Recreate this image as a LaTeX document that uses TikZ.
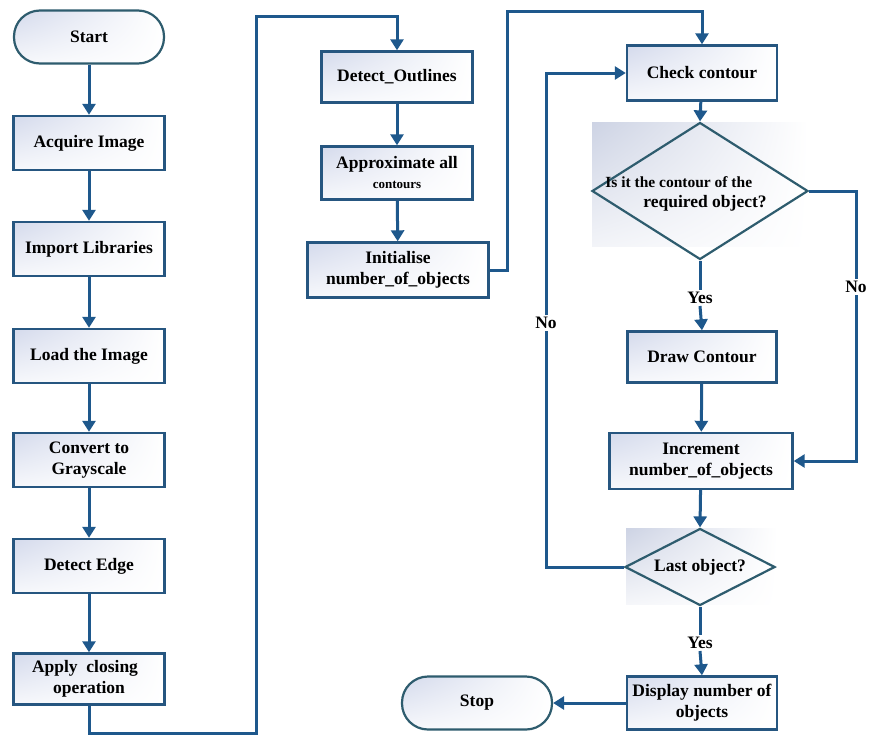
\documentclass[tikz,border=0pt]{standalone}
\usepackage{fontspec}
\setmainfont{Liberation Serif}
\usetikzlibrary{arrows.meta,shapes.geometric,shadings}
\definecolor{edge}{RGB}{38,86,128}
\definecolor{dedge}{RGB}{46,92,110}
\definecolor{arr}{RGB}{30,88,140}
\definecolor{shadec}{RGB}{212,218,236}
\definecolor{bgshade}{RGB}{205,211,228}
\begin{document}
\begin{tikzpicture}[x=1pt,y=-1pt,
  every node/.style={font=\bfseries\fontsize{17.5}{21}\selectfont, text=black},
  procbox/.style={draw=edge, line width=2.4pt, upper left=shadec, upper right=white, lower left=white!80!shadec, lower right=white,
    minimum width=#1, minimum height=54pt, inner sep=0pt, align=center},
  procbox/.default=151pt,
  termbox/.style={draw=dedge, line width=2.2pt, rounded corners=26pt, upper left=shadec, upper right=white, lower left=white!80!shadec, lower right=white,
    minimum width=150pt, minimum height=53pt, inner sep=0pt},
  decbox/.style={draw=dedge, line width=2.2pt, diamond, inner sep=0pt, fill=none},
  conn/.style={draw=arr, line width=3pt},
  arrow/.style={conn, -{Triangle[length=11pt,width=13pt]}},
  lbl/.style={fill=white, inner sep=2pt}
]
\useasboundingbox (0,0) rectangle (873,736);
\fill[white] (0,0) rectangle (873,736);

% background shades behind diamonds
\shade[upper left=bgshade, upper right=white, lower left=white!75!bgshade, lower right=white] (592,122) rectangle (808,246);
\shade[upper left=bgshade, upper right=white, lower left=white!80!bgshade, lower right=white] (626,528) rectangle (777,604);

% left column
\node[termbox] (start) at (89,37) {Start};
\node[procbox] (acq) at (89,143) {Acquire Image};
\node[procbox] (imp) at (89,249) {Import Libraries};
\node[procbox] (load) at (89,356) {Load the Image};
\node[procbox] (gray) at (89,460) {Convert to\\Grayscale};
\node[procbox] (edgeb) at (89,566) {Detect Edge};
\node[procbox, minimum height=51pt] (close) at (89,679) {\hspace*{-8pt}Apply\ \ closing\\operation};

% middle column
\node[procbox, minimum height=51pt] (outl) at (397,77) {Detect\_Outlines};
\node[procbox, minimum height=53pt] (approx) at (397,173) {Approximate all\\[-1pt]{\fontsize{13}{15}\selectfont contours}};
\node[procbox, minimum width=181pt, minimum height=55pt] (init) at (398,270) {Initialise\\number\_of\_objects};

% right column
\node[procbox, minimum width=150pt, minimum height=55pt] (check) at (702,73) {Check contour};
\node[decbox, minimum width=216pt, minimum height=137pt] (d1) at (700,191) {};
\node[align=left, inner sep=0pt] (d1t) at (686,194) {{\fontsize{15.5}{17}\selectfont Is it the contour of the}\\[-1pt]\hspace*{38pt}required object?};
\node[procbox, minimum width=149pt, minimum height=51pt] (drawc) at (702,357) {Draw Contour};
\node[procbox, minimum width=183pt, minimum height=56pt] (inc) at (701,461) {Increment\\number\_of\_objects};
\node[decbox, minimum width=150pt, minimum height=77pt] (last) at (700,567) {};
\node (lastt) at (700,567) {Last object?};
\node[procbox, minimum width=150pt, minimum height=53pt] (disp) at (702,703) {Display number of\\objects};
\node[termbox] (stop) at (477,703) {Stop};

% labels
\node[lbl] (yes1) at (700,298) {Yes};
\node[lbl] (no1) at (856,287) {No};
\node[lbl] (yes2) at (700,643) {Yes};

% coordinates
\coordinate (c1) at (256,733);
\coordinate (c2) at (256,16);
\coordinate (c3) at (507,11);
\coordinate (c4) at (546,73);

% connectors
\draw[arrow] (start) -- (acq);
\draw[arrow] (acq) -- (imp);
\draw[arrow] (imp) -- (load);
\draw[arrow] (load) -- (gray);
\draw[arrow] (gray) -- (edgeb);
\draw[arrow] (edgeb) -- (close);
\draw[arrow] (close.south) |- (c1) -- (c2) -| (outl.north);
\draw[arrow] (outl) -- (approx);
\draw[arrow] (approx) -- (init);
\draw[arrow] (init.east) -| (c3) -| (check.north);
\draw[arrow] (check) -- (d1.north);
\draw[conn] (d1.south) -- (yes1.north);
\draw[arrow] (yes1.south) -- (drawc.north);
\draw[arrow] (drawc) -- (inc);
\draw[conn] (d1.east) -| (no1.north);
\draw[arrow] (no1.south) |- (inc.east);
\draw[arrow] (inc) -- (last.north);
\draw[conn] (last.south) -- (yes2.north);
\draw[arrow] (yes2.south) -- (disp.north);
\draw[arrow] (last.west) -| (c4) -- (check.west);
\draw[arrow] (disp) -- (stop);
\node[lbl] (no2) at (546,323) {No};
\end{tikzpicture}
\end{document}
